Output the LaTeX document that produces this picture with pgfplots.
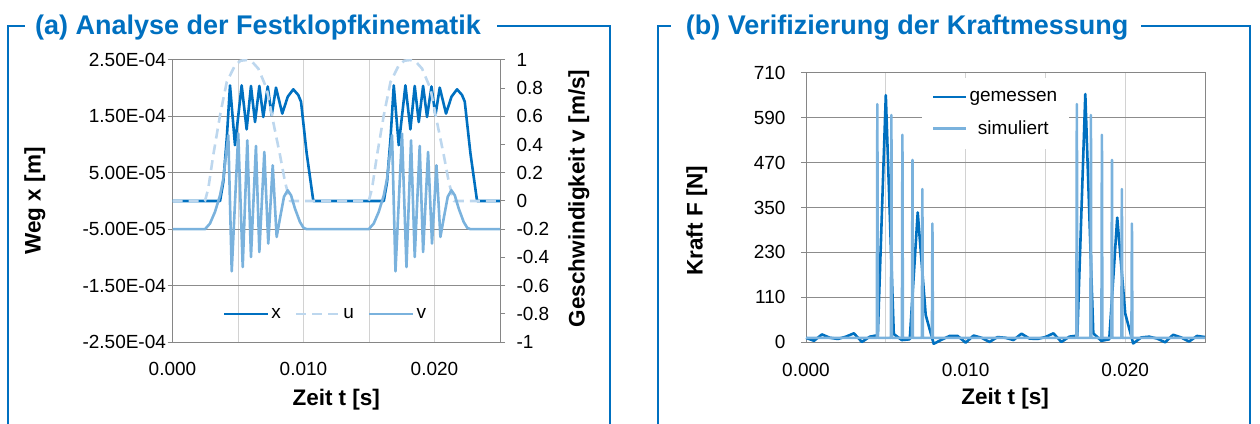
\documentclass[border=0pt]{standalone}
\usepackage{fontspec}
\setmainfont{Liberation Sans}
\usepackage{pgfplots}
\pgfplotsset{compat=1.18}

\definecolor{xblue}{RGB}{0,112,192}
\definecolor{ulight}{RGB}{189,215,238}
\definecolor{vblue}{RGB}{122,178,221}
\definecolor{hgrid}{RGB}{140,140,140}
\definecolor{vgrid}{RGB}{210,210,210}
\definecolor{axgray}{RGB}{134,134,134}

\newcommand{\tickfont}{\fontsize{19}{22}\selectfont}
\newcommand{\labfont}{\fontsize{22.5}{26}\selectfont\bfseries}
\newcommand{\titfont}{\fontsize{27}{31}\selectfont\bfseries}

\pgfplotsset{
  panel/.style={
    scale only axis, xmin=0, xmax=0.025,
    scaled x ticks=false, scaled y ticks=false,
    xtick={0,0.005,0.01,0.015,0.02,0.025},
    xticklabels={0.000,,0.010,,0.020,},
    xmajorgrids, ymajorgrids,
    x grid style={vgrid, line width=1pt},
    y grid style={hgrid, line width=1pt},
    axis line style={axgray, line width=1pt},
    xtick pos=bottom, ytick pos=left,
    tick align=outside, major tick length=5pt,
    x tick style={draw=none},
    y tick style={axgray, line width=1pt},
    tick label style={font=\tickfont, text=black},
    xticklabel style={yshift=-12pt},
    label style={font=\labfont},
    every axis plot/.append style={line width=2.6pt, line join=round},
  }
}

\begin{document}
\begin{tikzpicture}
\useasboundingbox (0pt,0pt) rectangle (1260pt,423pt);

% frames and titles
\draw[xblue, line width=2.8pt] (8pt,-5pt) -- (8pt,397pt) -- (25pt,397pt);
\draw[xblue, line width=2.8pt] (497pt,397pt) -- (610pt,397pt) -- (610pt,-5pt);
\draw[xblue, line width=2.8pt] (658pt,-5pt) -- (658pt,397pt) -- (671pt,397pt);
\draw[xblue, line width=2.8pt] (1141pt,397pt) -- (1250pt,397pt) -- (1250pt,-5pt);
\node[anchor=base west, inner sep=0, font=\titfont, text=xblue] at (35pt,388pt) {(a) Analyse der Festklopfkinematik};
\node[anchor=base west, inner sep=0, font=\titfont, text=xblue] at (685.6pt,388pt) {(b) Verifizierung der Kraftmessung};

% (a) left axis: x
\begin{axis}[panel, at={(172.5pt,81pt)}, anchor=south west, width=327.5pt, height=282pt,
  ymin=-2.5e-4, ymax=2.5e-4,
  ytick={-2.5e-4,-1.5e-4,-0.5e-4,0.5e-4,1.5e-4,2.5e-4},
  yticklabels={-2.50E-04,-1.50E-04,-5.00E-05,5.00E-05,1.50E-04,2.50E-04},
  yticklabel style={xshift=2pt},
  xlabel={Zeit t [s]}, ylabel={Weg x [m]},
  xlabel style={at={(axis description cs:0.5,-0.203)}, anchor=center},
  ylabel style={at={(axis description cs:-0.42,0.5)}, anchor=center},
]
\addplot[xblue] table {
t x
0.00000 0
0.00363 0
0.00388 0.34e-4
0.00414 1.10e-4
0.00439 2.05e-4
0.00477 0.99e-4
0.00528 2.05e-4
0.00566 1.27e-4
0.00599 2.04e-4
0.00630 1.40e-4
0.00663 2.04e-4
0.00693 1.49e-4
0.00727 2.03e-4
0.00757 1.52e-4
0.00790 2.01e-4
0.00838 1.55e-4
0.00880 1.85e-4
0.00922 1.98e-4
0.00960 1.88e-4
0.00981 1.76e-4
0.01024 0.85e-4
0.01075 0
0.01613 0
0.01638 0.34e-4
0.01664 1.10e-4
0.01689 2.05e-4
0.01727 0.99e-4
0.01778 2.05e-4
0.01816 1.27e-4
0.01849 2.04e-4
0.01880 1.40e-4
0.01913 2.04e-4
0.01943 1.49e-4
0.01977 2.03e-4
0.02007 1.52e-4
0.02040 2.01e-4
0.02088 1.55e-4
0.02130 1.85e-4
0.02172 1.98e-4
0.02210 1.88e-4
0.02231 1.76e-4
0.02274 0.85e-4
0.02325 0
0.02500 0
};
\end{axis}

% (a) right axis: u, v
\begin{axis}[scale only axis, at={(172.5pt,81pt)}, anchor=south west, width=327.5pt, height=282pt,
  xmin=0, xmax=0.025, ymin=-1, ymax=1,
  axis x line=none, axis y line*=right,
  axis line style={axgray, line width=1pt, -},
  tick align=outside, major tick length=5pt,
  y tick style={axgray, line width=1pt},
  ytick={-1,-0.8,-0.6,-0.4,-0.2,0,0.2,0.4,0.6,0.8,1},
  yticklabels={-1,-0.8,-0.6,-0.4,-0.2,0,0.2,0.4,0.6,0.8,1},
  tick label style={font=\tickfont, text=black},
  yticklabel style={xshift=8pt},
  ylabel={Geschwindigkeit v [m/s]},
  ylabel style={font=\labfont, at={(axis description cs:1.241,0.509)}, anchor=center},
  every axis plot/.append style={line width=2.6pt, line join=round},
  legend style={draw=none, fill=none, at={(0.467,0.099)}, anchor=center, legend columns=3,
    font=\tickfont, /tikz/every even column/.append style={column sep=12pt}},
  legend image code/.code={\draw[#1] (0pt,0pt) -- (44pt,0pt);},
]
\addlegendimage{xblue, line width=2.6pt}
\addlegendentry{x}
\addplot[ulight, dash pattern=on 10pt off 6pt] table {
t u
0.00000 0
0.00248 0
0.00273 0.088
0.00311 0.324
0.00363 0.608
0.00414 0.844
0.00477 0.962
0.00520 0.995
0.00566 1.0
0.00610 0.985
0.00655 0.939
0.00719 0.797
0.00769 0.56
0.00821 0.324
0.00859 0.135
0.00897 0
0.01498 0
0.01523 0.088
0.01561 0.324
0.01613 0.608
0.01664 0.844
0.01727 0.962
0.01770 0.995
0.01816 1.0
0.01860 0.985
0.01905 0.939
0.01969 0.797
0.02019 0.56
0.02071 0.324
0.02109 0.135
0.02147 0
0.02500 0
};
\addlegendentry{u}
\addplot[vblue] table {
t v
0.00000 -0.2
0.00248 -0.2
0.00286 -0.16
0.00324 -0.078
0.00363 0.04
0.00388 0.159
0.00414 0.372
0.00426 0.466
0.00452 -0.499
0.00502 0.478
0.00536 -0.468
0.00571 0.430
0.00599 -0.397
0.00637 0.390
0.00663 -0.362
0.00701 0.348
0.00731 -0.302
0.00765 0.253
0.00795 -0.255
0.00821 -0.12
0.00851 0.03
0.00879 0.076
0.00905 0.04
0.00935 -0.054
0.00973 -0.149
0.01000 -0.19
0.01024 -0.2
0.01498 -0.2
0.01536 -0.16
0.01574 -0.078
0.01613 0.04
0.01638 0.159
0.01664 0.372
0.01676 0.466
0.01702 -0.499
0.01752 0.478
0.01786 -0.468
0.01821 0.430
0.01849 -0.397
0.01887 0.390
0.01913 -0.362
0.01951 0.348
0.01981 -0.302
0.02015 0.253
0.02045 -0.255
0.02071 -0.12
0.02101 0.03
0.02129 0.076
0.02155 0.04
0.02185 -0.054
0.02223 -0.149
0.02250 -0.19
0.02274 -0.2
0.02500 -0.2
};
\addlegendentry{v}
\end{axis}

% (b) force
\begin{axis}[panel, at={(806pt,80.7pt)}, anchor=south west, width=399pt, height=269.6pt,
  ymin=-10, ymax=710, clip=false,
  ytick={-10,110,230,350,470,590,710},
  yticklabels={0,110,230,350,470,590,710},
  yticklabel style={xshift=-12pt},
  xlabel={Zeit t [s]}, ylabel={Kraft F [N]},
  xlabel style={at={(axis description cs:0.499,-0.208)}, anchor=center},
  ylabel style={at={(axis description cs:-0.274,0.451)}, anchor=center},
  legend style={draw=none, fill=white, at={(0.29,0.98)}, anchor=north west,
    font=\tickfont, inner xsep=10pt, inner ysep=11pt, /tikz/row sep=14pt},
  legend image code/.code={\draw[#1] (0pt,0pt) -- (33pt,0pt);},
]
\addplot[xblue] table {
t F
0.0000 2
0.0005 -6
0.0010 11
0.0015 2
0.0020 -1
0.0025 5
0.0030 14
0.0035 -9
0.0040 5
0.0045 9
0.0050 650
0.0055 12
0.0060 -4
0.0065 -2
0.0070 337
0.0075 63
0.0080 -14
0.0085 -3
0.0090 7
0.0095 7
0.0100 -11
0.0105 8
0.0110 2
0.0115 -9
0.0120 4
0.0125 2
0.0130 -4
0.0135 13
0.0140 0
0.0145 -1
0.0150 4
0.0155 14
0.0160 -9
0.0165 5
0.0170 8
0.0175 653
0.0180 14
0.0185 -6
0.0190 -2
0.0195 323
0.0200 67
0.0205 -13
0.0210 3
0.0215 5
0.0220 0
0.0225 -10
0.0230 10
0.0235 3
0.0240 -8
0.0245 7
0.0250 4
};
\addlegendentry{gemessen}
\addplot[vblue] table {
t F
0.00000 2
0.00444 2
0.00447 626
0.00450 2
0.00532 2
0.00535 597
0.00538 2
0.00601 2
0.00604 544
0.00607 2
0.00664 2
0.00667 477
0.00670 2
0.00726 2
0.00729 399
0.00732 2
0.00789 2
0.00792 307
0.00795 2
0.01694 2
0.01697 626
0.01700 2
0.01782 2
0.01785 597
0.01788 2
0.01851 2
0.01854 544
0.01857 2
0.01914 2
0.01917 477
0.01920 2
0.01976 2
0.01979 399
0.01982 2
0.02039 2
0.02042 307
0.02045 2
0.02500 2
};
\addlegendentry{simuliert}
\end{axis}
\end{tikzpicture}
\end{document}
